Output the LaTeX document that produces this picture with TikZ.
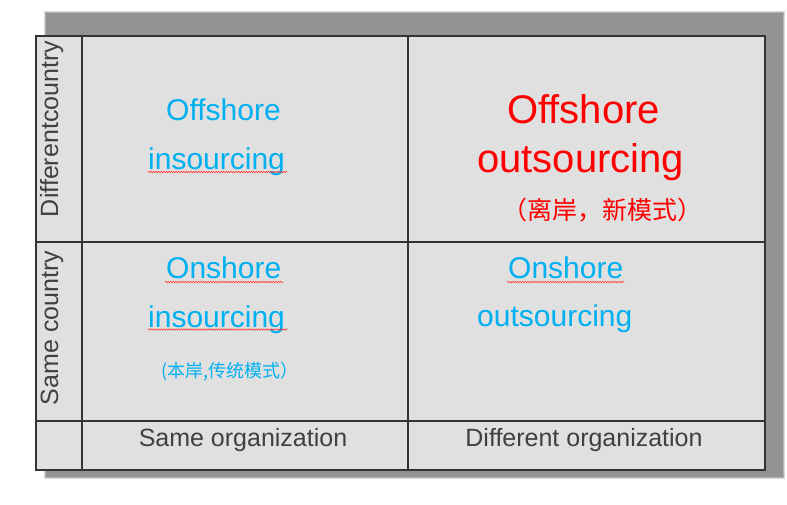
\documentclass[tikz,border=0pt]{standalone}
\usepackage{fontspec}
\setmainfont{Liberation Sans}
\newfontfamily\cjk{Noto Sans CJK SC}
\usetikzlibrary{decorations.pathmorphing}
\definecolor{cellgray}{RGB}{224,224,224}
\definecolor{shadowgray}{RGB}{147,147,147}
\definecolor{labelgray}{RGB}{64,64,64}
\definecolor{skyblue}{RGB}{0,176,240}

\begin{document}
\begin{tikzpicture}[x=1pt, y=-1pt,
  txt/.style={inner sep=0pt},
  bluetxt/.style={txt, anchor=base west, text=skyblue, font=\fontsize{30}{36}\selectfont},
  redtxt/.style={txt, anchor=base west, text=red, font=\fontsize{40}{48}\selectfont},
  axis/.style={txt, anchor=base, text=labelgray, font=\fontsize{25}{30}\selectfont},
  side/.style={axis, rotate=90},
  grid/.style={draw=black!80, line width=1.2pt},
  squiggle/.style={draw=red!85, line width=0.5pt, decorate,
                   decoration={snake, segment length=2.5pt, amplitude=0.7pt}}
]
  \useasboundingbox (0,0) rectangle (787,504);

  % shadow
  \fill[shadowgray!35] (44,11) rectangle (785,479);
  \fill[shadowgray!70] (45,12) rectangle (784,478);
  \fill[shadowgray] (46,13) rectangle (783,477);

  % table
  \fill[cellgray] (36,36) rectangle (765,470);
  \draw[grid] (36,36) rectangle (765,470);
  \draw[grid] (82,36) -- (82,470);
  \draw[grid] (408,36) -- (408,470);
  \draw[grid] (36,242) -- (765,242);
  \draw[grid] (36,421) -- (765,421);

  % quadrants
  \node[bluetxt] (offin1) at (166,120) {Offshore};
  \node[bluetxt] (offin2) at (148,169) {insourcing};

  \node[redtxt] (offout1) at (507,123) {Offshore};
  \node[redtxt] (offout2) at (477,172) {outsourcing};
  \node[txt, anchor=base, text=red, font=\cjk\fontsize{25}{30}\selectfont]
    (offnote) at (602,219) {（离岸，新模式）};

  \node[bluetxt] (onin1) at (166,278) {Onshore};
  \node[bluetxt] (onin2) at (148,327) {insourcing};
  \node[txt, anchor=base, text=skyblue, font=\cjk\fontsize{18}{21}\selectfont]
    (onnote) at (230,377) {(本岸,传统模式）};

  \node[bluetxt] (onout1) at (508,278) {Onshore};
  \node[bluetxt] (onout2) at (477,326) {outsourcing};

  % spelling marks
  \draw[squiggle] ([yshift=-3pt]offin2.base west) -- ([yshift=-3pt,xshift=2pt]offin2.base east);
  \draw[squiggle] ([yshift=-4pt,xshift=-1pt]onin1.base west) -- ([yshift=-4pt,xshift=2pt]onin1.base east);
  \draw[squiggle] ([yshift=-2.5pt]onin2.base west) -- ([yshift=-2.5pt,xshift=2pt]onin2.base east);
  \draw[squiggle] ([yshift=-4pt,xshift=-1pt]onout1.base west) -- ([yshift=-4pt,xshift=1pt]onout1.base east);

  % axes
  \node[axis] (sameorg) at (243,446) {Same organization};
  \node[axis] (difforg) at (584,446) {Different organization};
  \node[side] (diffctry) at (58,129) {Differentcountry};
  \node[side] (samectry) at (58,328) {Same country};
\end{tikzpicture}
\end{document}
